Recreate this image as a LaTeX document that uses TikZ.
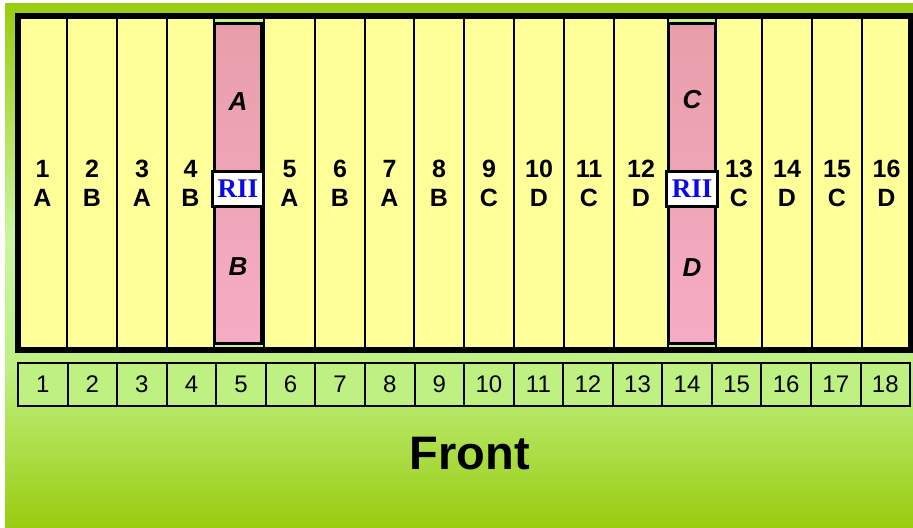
\documentclass[tikz,border=0pt]{standalone}
\usepackage{fontspec}
\setmainfont{Liberation Sans}
\newfontfamily\riifont{Liberation Serif}
\usetikzlibrary{positioning}
\definecolor{rackyellow}{RGB}{255,255,153}
\definecolor{pinktop}{RGB}{232,158,170}
\definecolor{pinkbot}{RGB}{246,172,196}
\definecolor{darkgreen}{RGB}{154,204,16}
\definecolor{lightgreen}{RGB}{202,246,162}
\definecolor{stripgreen}{RGB}{190,240,130}
\definecolor{gapgreen}{RGB}{205,240,135}
\definecolor{riiblue}{RGB}{10,10,230}
\begin{document}
\begin{tikzpicture}[x={(0.5pt,0pt)}, y={(0pt,-0.5pt)},
  slot/.style={rectangle, draw, line width=1pt, fill=rackyellow, minimum width=25pt, minimum height=167pt, align=center, font=\fontsize{12.5}{14.5}\selectfont\bfseries, text depth=-2.5pt},
  pink slot/.style={rectangle, draw, line width=1.5pt, top color=pinktop, bottom color=pinkbot, minimum width=23.5pt, minimum height=160pt},
  rii/.style={rectangle, draw, line width=1.5pt, fill=white, minimum width=25.5pt, minimum height=17.5pt, text=riiblue, font=\riifont\bfseries\fontsize{13.5}{16}\selectfont},
  letter/.style={font=\fontsize{13}{15}\selectfont\bfseries\itshape},
  cell/.style={rectangle, draw, line width=1pt, fill=stripgreen, minimum width=24.78pt, minimum height=21.5pt, font=\fontsize{12}{14}\selectfont}]
  \tikzstyle{every node}=[inner sep=0pt, outer sep=0pt]

  \useasboundingbox (0,0) rectangle (913,527);
  % background
  \shade[top color=darkgreen, bottom color=lightgreen] (5,3) rectangle (913,240);
  \shade[top color=lightgreen, bottom color=stripgreen] (5,239) rectangle (913,371);
  \shade[top color=stripgreen, bottom color=darkgreen] (5,370) rectangle (913,527);

  % slots
  \node[slot, minimum width=24.5pt] (s1) at (42.5,183) {1\\A};
  \node[slot] (s2) [right=0pt of s1] {2\\B};
  \node[slot] (s3) [right=0pt of s2] {3\\A};
  \node[slot, minimum width=23.5pt] (s4) [right=0pt of s3] {4\\B};
  \node[slot, fill=gapgreen] (s5) [right=0pt of s4] {};
  \node[slot, minimum width=25.5pt] (s6) [right=0pt of s5] {5\\A};
  \node[slot] (s7) [right=0pt of s6] {6\\B};
  \node[slot, minimum width=24.5pt] (s8) [right=0pt of s7] {7\\A};
  \node[slot] (s9) [right=0pt of s8] {8\\B};
  \node[slot] (s10) [right=0pt of s9] {9\\C};
  \node[slot] (s11) [right=0pt of s10] {10\\D};
  \node[slot, text depth=-4pt] (s12) [right=0pt of s11] {11\\C};
  \node[slot, minimum width=27pt] (s13) [right=0pt of s12] {12\\D};
  \node[slot, fill=gapgreen, minimum width=24pt] (s14) [right=0pt of s13] {};
  \node[slot, minimum width=23pt] (s15) [right=0pt of s14] {13\\C};
  \node[slot] (s16) [right=0pt of s15] {14\\D};
  \node[slot] (s17) [right=0pt of s16] {15\\C};
  \node[slot, minimum width=24.5pt] (s18) [right=0pt of s17] {16\\D};

  % RII slots
  \node[pink slot] (p5) at ([xshift=-0.5pt]s5.center) {};
  \node[pink slot] (p14) at (s14) {};
  \node[letter] (la) at ([yshift=40.5pt]p5.center) {A};
  \node[letter] (lb) at ([yshift=-42pt]p5.center) {B};
  \node[letter] (lc) at ([yshift=41.5pt]p14.center) {C};
  \node[letter] (ld) at ([yshift=-42.5pt]p14.center) {D};
  \node[rii] (r5) at ([yshift=-3pt]p5.center) {RII};
  \node[rii] (r14) at ([yshift=-3pt]p14.center) {RII};

  % frame
  \draw[line width=2.75pt] (s1.north west) rectangle (s18.south east);

  % front numbers
  \node[cell] (f1) at (42.8,384) {1};
  \node[cell] (f2) [right=0pt of f1] {2};
  \node[cell] (f3) [right=0pt of f2] {3};
  \node[cell] (f4) [right=0pt of f3] {4};
  \node[cell] (f5) [right=0pt of f4] {5};
  \node[cell] (f6) [right=0pt of f5] {6};
  \node[cell] (f7) [right=0pt of f6] {7};
  \node[cell] (f8) [right=0pt of f7] {8};
  \node[cell] (f9) [right=0pt of f8] {9};
  \node[cell] (f10) [right=0pt of f9] {10};
  \node[cell] (f11) [right=0pt of f10] {11};
  \node[cell] (f12) [right=0pt of f11] {12};
  \node[cell] (f13) [right=0pt of f12] {13};
  \node[cell] (f14) [right=0pt of f13] {14};
  \node[cell] (f15) [right=0pt of f14] {15};
  \node[cell] (f16) [right=0pt of f15] {16};
  \node[cell] (f17) [right=0pt of f16] {17};
  \node[cell] (f18) [right=0pt of f17] {18};

  \node[font=\fontsize{23.5}{28}\selectfont\bfseries] (front) at (470,454) {Front};
\end{tikzpicture}
\end{document}
